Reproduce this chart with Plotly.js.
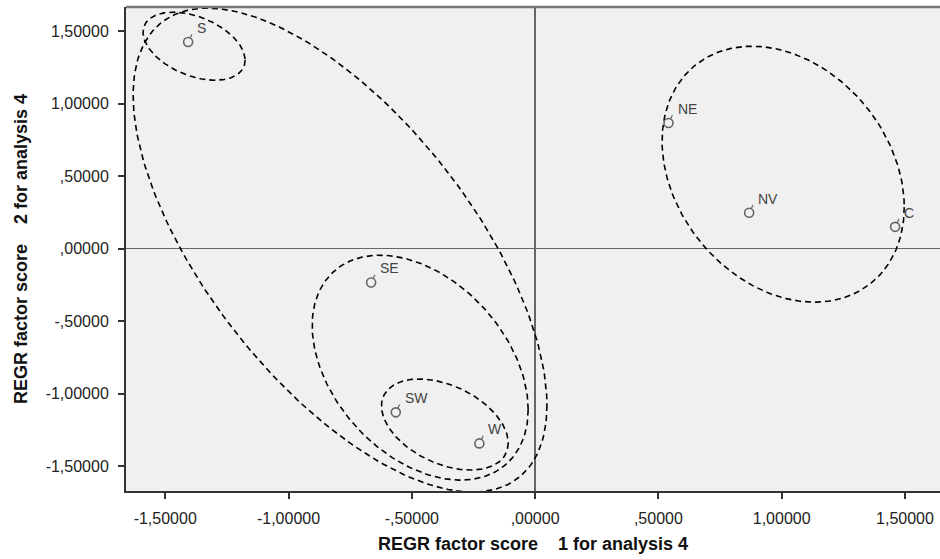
<!DOCTYPE html>
<html>
<head>
<meta charset="utf-8">
<script src="https://cdn.plot.ly/plotly-3.0.1.min.js"></script>
<style>html,body{margin:0;padding:0;background:#fff;}#chart{width:940px;height:559px;}</style>
</head>
<body>
<div id="chart"></div>
<script>
// Cases (regions) and their factor scores
const regions = ['S', 'NE', 'NV', 'C', 'SE', 'SW', 'W'];
const factor1 = [-1.407, 0.541, 0.868, 1.460, -0.665, -0.565, -0.226];
const factor2 = [1.424, 0.866, 0.247, 0.150, -0.233, -1.128, -1.342];

// Cluster outlines (ellipses): centre and conjugate semi-axis vectors, in data units
const ellipseCx = [-1.383, -0.791, -0.466, -0.366, 1.006];
const ellipseCy = [1.395, -0.010, -0.820, -1.212, 0.513];
const ellipseUx = [0.207, 0.839, 0.438, 0.257, 0.491];
const ellipseUy = [-0.096, -1.068, -0.289, -0.127, -0.227];
const ellipseVy = [-0.214, -1.280, -0.719, -0.287, -0.852];

// Tick labels
const xTickVals = [-1.5, -1.0, -0.5, 0, 0.5, 1.0, 1.5];
const xTickText = ['-1,50000', '-1,00000', '-,50000', ',00000', ',50000', '1,00000', '1,50000'];
const yTickVals = [-1.5, -1.0, -0.5, 0, 0.5, 1.0, 1.5];
const yTickText = ['-1,50000', '-1,00000', '-,50000', ',00000', ',50000', '1,00000', '1,50000'];

const FONT = 'Liberation Sans, Arial, sans-serif';
const traces = [];

for (let i = 0; i < ellipseCx.length; i++) {
  const ex = [], ey = [];
  const n = 240;
  for (let k = 0; k <= n; k++) {
    const t = 2 * Math.PI * k / n;
    ex.push(ellipseCx[i] + ellipseUx[i] * Math.cos(t));
    ey.push(ellipseCy[i] + ellipseUy[i] * Math.cos(t) + ellipseVy[i] * Math.sin(t));
  }
  traces.push({
    x: ex, y: ey, type: 'scatter', mode: 'lines',
    line: {color: '#000', width: 1.6, dash: '6px,4px'},
    hoverinfo: 'skip', showlegend: false
  });
}

traces.push({
  x: factor1, y: factor2, type: 'scatter', mode: 'markers',
  marker: {symbol: 'circle-open', size: 9, color: '#666', line: {width: 1.6, color: '#666'}},
  text: regions, hoverinfo: 'text', showlegend: false
});

const annotations = regions.map((r, i) => ({
  x: factor1[i], y: factor2[i], xref: 'x', yref: 'y',
  text: r, showarrow: true, arrowhead: 0, arrowwidth: 1.2, arrowcolor: '#666',
  ax: 7, ay: -14, xanchor: 'left', yanchor: 'middle',
  standoff: 4.5, startstandoff: 7,
  font: {family: FONT, size: 14, color: '#444'}
}));

const layout = {
  width: 940, height: 559,
  margin: {l: 126, r: 0, t: 7, b: 68, pad: 0},
  paper_bgcolor: '#ffffff',
  plot_bgcolor: '#f0f0f0',
  showlegend: false,
  font: {family: FONT, color: '#222'},
  xaxis: {
    range: [-1.659, 1.642],
    tickvals: xTickVals, ticktext: xTickText,
    ticks: 'outside', ticklen: 6, tickwidth: 2, tickcolor: '#333',
    ticklabelstandoff: 6,
    tickfont: {family: FONT, size: 16, color: '#222'},
    showgrid: false,
    zeroline: true, zerolinecolor: '#666', zerolinewidth: 1.5,
    showline: true, linecolor: '#333', linewidth: 2,
    title: {text: 'REGR factor score\u00a0\u00a0\u00a0 1 for analysis 4', font: {family: FONT, size: 18, color: '#111', weight: 'bold'}, standoff: 11}
  },
  yaxis: {
    range: [-1.670, 1.665],
    tickvals: yTickVals, ticktext: yTickText,
    ticks: 'outside', ticklen: 6, tickwidth: 2, tickcolor: '#333',
    ticklabelstandoff: 6,
    tickfont: {family: FONT, size: 16, color: '#222'},
    showgrid: false,
    zeroline: true, zerolinecolor: '#666', zerolinewidth: 1.5,
    showline: true, linecolor: '#333', linewidth: 2,
    title: {text: 'REGR factor score\u00a0\u00a0\u00a0 2 for analysis 4', font: {family: FONT, size: 18, color: '#111', weight: 'bold'}, standoff: 13}
  },
  shapes: [{
    type: 'line', xref: 'paper', yref: 'paper', x0: 0, x1: 1, y0: 1, y1: 1,
    line: {color: '#777', width: 2.5}
  }],
  annotations: annotations
};

Plotly.newPlot('chart', traces, layout, {displayModeBar: false, staticPlot: true});
</script>
</body>
</html>
